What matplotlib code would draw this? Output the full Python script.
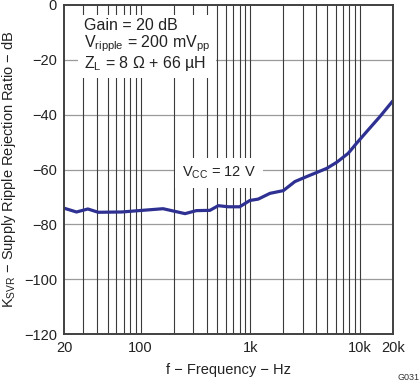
import matplotlib
matplotlib.use("Agg")
import matplotlib.pyplot as plt
from matplotlib.ticker import FixedLocator, NullFormatter

plt.rcParams['font.family'] = ['Liberation Sans', 'DejaVu Sans']
plt.rcParams['mathtext.fontset'] = 'custom'
plt.rcParams['mathtext.rm'] = 'Liberation Sans'
plt.rcParams['mathtext.it'] = 'Liberation Sans'

freq = [20, 26, 33, 41, 67, 160, 254, 322, 428, 510, 630, 800, 990, 1180,
        1510, 2000, 2550, 3260, 4970, 6120, 7810, 9320, 11500, 15200, 20000]
ksvr = [-74.1, -75.5, -74.4, -75.6, -75.5, -74.3, -76.1, -75.0, -74.9, -73.2,
        -73.6, -73.6, -71.3, -70.8, -68.7, -67.7, -64.4, -62.6, -59.6, -57.4,
        -54.1, -50.4, -46.2, -40.7, -34.9]

xticks = [20, 100, 1000, 10000, 20000]
xticklabels = ['20', '100', '1k', '10k', '20k']
yticks = [0, -20, -40, -60, -80, -100, -120]
yticklabels = ['0', '\u221220', '\u221240', '\u221260', '\u221280', '\u2212100', '\u2212120']
vgrid = [30, 40, 50, 60, 70, 80, 90, 100, 200, 300, 400, 500, 600, 700, 800, 900,
         1000, 2000, 3000, 4000, 5000, 6000, 7000, 8000, 9000, 10000]

fig = plt.figure(figsize=(4.2, 3.84), dpi=100)
ax = fig.add_axes([64/420, 1-334/384, 329/420, 329/384])
ax.set_xscale('log')
ax.set_xlim(20, 20000)
ax.set_ylim(-120, 0)

for y in yticks[1:-1]:
    ax.axhline(y, color='#9a9a9a', lw=0.9, zorder=1)
for x in vgrid:
    ax.axvline(x, color='#3a3a3a', lw=0.8, zorder=1)

ax.plot(freq, ksvr, color='#2E3192', lw=2.3, zorder=4, solid_capstyle='butt')

ax.xaxis.set_major_locator(FixedLocator(xticks))
ax.set_xticklabels(xticklabels)
ax.xaxis.set_minor_locator(FixedLocator(vgrid))
ax.xaxis.set_minor_formatter(NullFormatter())
ax.set_yticks(yticks)
ax.set_yticklabels(yticklabels)
ax.tick_params(axis='both', which='both', length=0, labelsize=10.5, colors='#222222', pad=5)

for s in ax.spines.values():
    s.set_color('#404040')
    s.set_linewidth(1.4)
    s.set_zorder(5)

ax.set_xlabel('f \u2212 Frequency \u2212 Hz', fontsize=10.5, color='#222222', labelpad=6)
ax.set_ylabel('K$_{\\mathrm{SVR}}$ \u2212 Supply Ripple Rejection Ratio \u2212 dB',
              fontsize=10.5, color='#222222', labelpad=4)

ax.text(0.06, 0.96, 'Gain = 20 dB\nV$_{\\mathrm{ripple}}$ = 200 mV$_{\\mathrm{pp}}$\nZ$_{\\mathrm{L}}$ = 8 \u03a9 + 66 \u00b5H',
        transform=ax.transAxes, fontsize=11.5, va='top', ha='left',
        linespacing=1.0, bbox=dict(facecolor='white', edgecolor='none', pad=4), zorder=3, color='#222222')
ax.text(0.36, 0.49, 'V$_{\\mathrm{CC}}$ = 12 V', transform=ax.transAxes,
        fontsize=10.5, va='center', ha='left', bbox=dict(facecolor='white', edgecolor='none', pad=5),
        zorder=3, color='#222222')

fig.text(419/420, 1-378/384, 'G031', fontsize=6.5, color='#333333', ha='right', va='center')

fig.savefig('out.png', dpi=100)
